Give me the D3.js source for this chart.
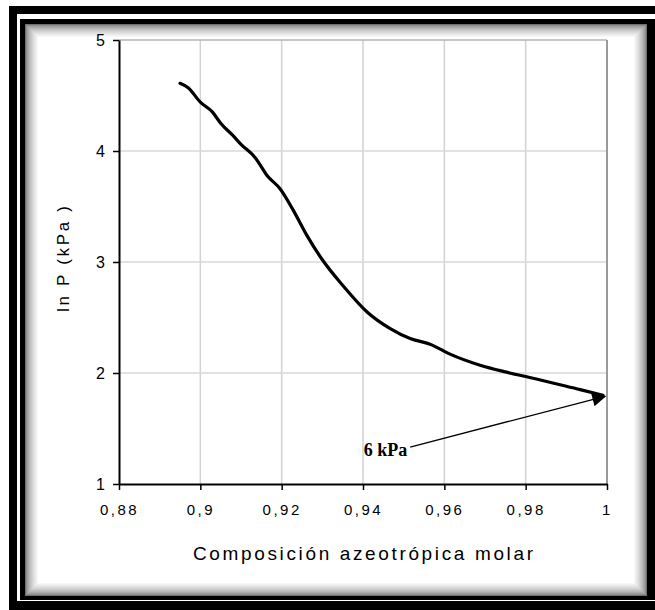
<!DOCTYPE html>
<html>
<head>
<meta charset="utf-8">
<script src="https://cdn.jsdelivr.net/npm/d3@7"></script>
<style>
  html, body { margin: 0; padding: 0; background: #fff; }
  svg { display: block; }
</style>
</head>
<body>
<script>
// ---- data ----
const xTickValues = [0.88, 0.90, 0.92, 0.94, 0.96, 0.98, 1.00];
const xTickLabels = ["0,88", "0,9", "0,92", "0,94", "0,96", "0,98", "1"];
const yTickValues = [1, 2, 3, 4, 5];
const yTickLabels = ["1", "2", "3", "4", "5"];

const curveX = [0.895, 0.897, 0.900, 0.903, 0.905, 0.908, 0.910, 0.9135, 0.9164, 0.9196, 0.9228, 0.9262, 0.930, 0.935, 0.941, 0.9467, 0.9516, 0.9565, 0.9614, 0.9688, 0.975, 0.981, 0.9934, 0.999];
const curveY = [4.61, 4.57, 4.44, 4.35, 4.25, 4.14, 4.06, 3.94, 3.78, 3.66, 3.47, 3.24, 3.02, 2.79, 2.55, 2.40, 2.31, 2.26, 2.17, 2.07, 2.01, 1.96, 1.85, 1.80];

const annotationText = "6 kPa";
const arrowFrom = [0.9516, 1.333];
const arrowTo = [0.9995, 1.79];

const xTitle = "Composición azeotrópica molar";
const yTitle = "ln P (kPa )";

// ---- drawing ----
const W = 655, H = 610;
const svg = d3.select("body").append("svg").attr("width", W).attr("height", H);

svg.append("rect").attr("x", 0).attr("y", 0).attr("width", W).attr("height", H).attr("fill", "#fff");
// outer black frame
svg.append("rect").attr("x", 9).attr("y", 6).attr("width", 660).attr("height", 620).attr("fill", "#000");
svg.append("rect").attr("x", 17).attr("y", 14).attr("width", 660).attr("height", 587).attr("fill", "#fff");
// inner black frame
svg.append("rect").attr("x", 20).attr("y", 19).attr("width", 640).attr("height", 581).attr("fill", "#000");
// inner shadow gradient
const inL = 25, inT = 24, inR = 647, inB = 596;
const shade = d3.interpolateRgb("#707070", "#ffffff");
const steps = 14;
d3.range(steps).forEach(i => {
  const t = Math.pow(i / (steps - 1), 0.6);
  svg.append("rect")
    .attr("x", inL + i).attr("y", inT + i)
    .attr("width", inR - inL - 2 * i).attr("height", inB - inT - 2 * i)
    .attr("fill", shade(t));
});

const x = d3.scaleLinear().domain([0.88, 1.0]).range([119, 607]);
const y = d3.scaleLinear().domain([1, 5]).range([484, 40]);

// gridlines
const g = svg.append("g");
g.selectAll("line.vg").data(xTickValues.slice(1, -1)).enter().append("line")
  .attr("x1", d => x(d)).attr("x2", d => x(d))
  .attr("y1", y(5)).attr("y2", y(1))
  .attr("stroke", "#d2d2d2").attr("stroke-width", 1.5);
g.selectAll("line.hg").data(yTickValues.slice(1, -1)).enter().append("line")
  .attr("x1", x(0.88)).attr("x2", x(1))
  .attr("y1", d => y(d)).attr("y2", d => y(d))
  .attr("stroke", "#d8d8d8").attr("stroke-width", 1.5);
g.append("line").attr("x1", x(0.88)).attr("x2", x(1)).attr("y1", y(5)).attr("y2", y(5))
  .attr("stroke", "#b5b5b5").attr("stroke-width", 1.5);
g.append("line").attr("x1", x(1)).attr("x2", x(1)).attr("y1", y(5)).attr("y2", y(1))
  .attr("stroke", "#9a9a9a").attr("stroke-width", 2);

const tickFont = "'Liberation Sans', Arial, sans-serif";

// axes
const xAxis = d3.axisBottom(x).tickValues(xTickValues)
  .tickFormat((d, i) => xTickLabels[i]).tickSizeInner(6).tickSizeOuter(0).tickPadding(14);
const gx = svg.append("g").attr("transform", `translate(0,${y(1)})`).call(xAxis);
gx.select(".domain").attr("stroke", "#000").attr("stroke-width", 2);
gx.selectAll(".tick line").attr("stroke", "#000").attr("stroke-width", 1.5);
gx.selectAll(".tick text")
  .attr("font-family", tickFont)
  .attr("font-size", 15).attr("fill", "#000")
  .style("letter-spacing", "2.5px");

const yAxis = d3.axisLeft(y).tickValues(yTickValues)
  .tickFormat((d, i) => yTickLabels[i]).tickSizeInner(6).tickSizeOuter(0).tickPadding(8);
const gy = svg.append("g").attr("transform", `translate(${x(0.88)},0)`).call(yAxis);
gy.select(".domain").attr("stroke", "#000").attr("stroke-width", 2);
gy.selectAll(".tick line").attr("stroke", "#000").attr("stroke-width", 1.5);
gy.selectAll(".tick text")
  .attr("font-family", tickFont)
  .attr("font-size", 16).attr("fill", "#000");

// titles
svg.append("text")
  .attr("x", 193).attr("y", 560)
  .attr("textLength", 340).attr("lengthAdjust", "spacing")
  .attr("font-family", tickFont)
  .attr("font-size", 19).attr("fill", "#000")
  .text(xTitle);
svg.append("text")
  .attr("transform", "translate(69,312) rotate(-90)")
  .attr("x", 0).attr("y", 0)
  .attr("textLength", 106).attr("lengthAdjust", "spacing")
  .attr("font-family", tickFont)
  .attr("font-size", 17).attr("fill", "#000")
  .text(yTitle);

// curve
const pts = curveX.map((d, i) => [d, curveY[i]]);
const line = d3.line().x(d => x(d[0])).y(d => y(d[1])).curve(d3.curveMonotoneX);
svg.append("path").datum(pts).attr("d", line)
  .attr("fill", "none").attr("stroke", "#000").attr("stroke-width", 3.2)
  .attr("stroke-linecap", "round").attr("stroke-linejoin", "round");

// annotation arrow
const defs = svg.append("defs");
defs.append("marker").attr("id", "ah")
  .attr("viewBox", "0 0 10 10").attr("refX", 9).attr("refY", 5)
  .attr("markerWidth", 20).attr("markerHeight", 14)
  .attr("markerUnits", "userSpaceOnUse")
  .attr("orient", "auto")
  .append("path").attr("d", "M0,0 L10,5 L0,10 Z").attr("fill", "#000");
svg.append("line")
  .attr("x1", x(arrowFrom[0])).attr("y1", y(arrowFrom[1]))
  .attr("x2", x(arrowTo[0])).attr("y2", y(arrowTo[1]))
  .attr("stroke", "#000").attr("stroke-width", 1.3)
  .attr("marker-end", "url(#ah)");
svg.append("text")
  .attr("x", x(arrowFrom[0]) - 3).attr("y", y(arrowFrom[1]) + 9)
  .attr("text-anchor", "end")
  .attr("font-family", "'Liberation Serif', 'Times New Roman', serif")
  .attr("font-weight", "bold").attr("font-size", 18).attr("fill", "#000")
  .text(annotationText);
</script>
</body>
</html>
